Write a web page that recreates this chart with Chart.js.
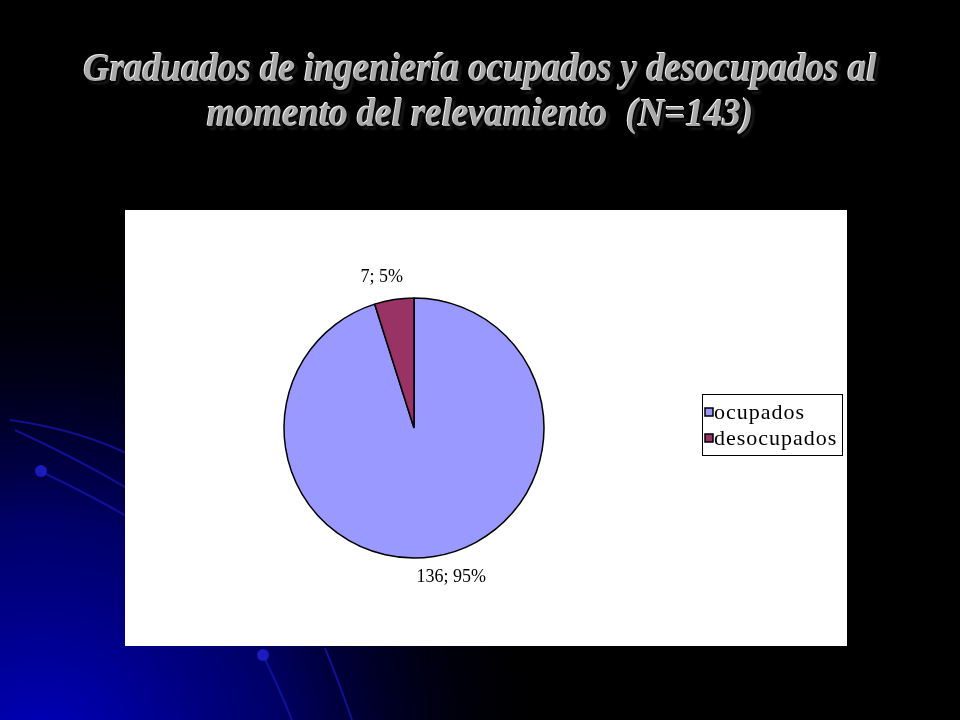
<!DOCTYPE html>
<html>
<head>
<meta charset="utf-8">
<script src="https://cdn.jsdelivr.net/npm/chart.js@4.4.0/dist/chart.umd.min.js"></script>
<style>
  html, body { margin: 0; padding: 0; }
  body {
    width: 960px; height: 720px; position: relative; overflow: hidden;
    background: #000;
  }
  #bg { position: absolute; left: 0; top: 0; }
  #title {
    position: absolute; left: 0; top: 45px; width: 960px;
    text-align: center;
    font-family: "Liberation Serif", serif;
    font-style: italic; font-weight: bold;
    font-size: 40px; line-height: 45px;
    color: #a9a9a9;
    transform: scaleX(0.92);
    transform-origin: 480px 0;
    text-shadow: -1px -1px 0 #f0f0f0, 2px 2px 2px #000, 3px 3px 3px #333;
  }
  #box {
    position: absolute; left: 125px; top: 210px;
    width: 722px; height: 436px; background: #fff;
  }
</style>
</head>
<body>
<canvas id="bg" width="960" height="720"></canvas>
<div id="title">Graduados de ingeniería ocupados y desocupados al<br>momento del relevamiento&nbsp; (N=143)</div>
<div id="box"><canvas id="pieChart"></canvas></div>
<script>
// data
const categories = ['ocupados', 'desocupados'];
const counts = [136, 7];
const percents = ['95%', '5%'];
const colors = ['#9999ff', '#993366'];

// background: blue glow bottom left with some curves
const bg = document.getElementById('bg').getContext('2d');
let grad = bg.createRadialGradient(40, 760, 10, 40, 760, 520);
grad.addColorStop(0, 'rgba(0,0,190,1)');
grad.addColorStop(0.45, 'rgba(0,0,130,0.8)');
grad.addColorStop(1, 'rgba(0,0,0,0)');
bg.fillStyle = grad;
bg.fillRect(0, 0, 960, 720);
bg.strokeStyle = 'rgba(20,20,170,0.8)';
bg.lineWidth = 2;
bg.beginPath(); bg.moveTo(10, 420); bg.quadraticCurveTo(80, 430, 130, 455); bg.stroke();
bg.beginPath(); bg.moveTo(15, 430); bg.quadraticCurveTo(80, 460, 130, 490); bg.stroke();
bg.beginPath(); bg.moveTo(42, 472); bg.quadraticCurveTo(90, 495, 130, 518); bg.stroke();
bg.beginPath(); bg.moveTo(263, 655); bg.quadraticCurveTo(280, 690, 292, 720); bg.stroke();
bg.beginPath(); bg.moveTo(325, 648); bg.quadraticCurveTo(340, 685, 352, 720); bg.stroke();
bg.fillStyle = 'rgba(30,30,200,0.9)';
bg.beginPath(); bg.arc(41, 471, 6, 0, Math.PI * 2); bg.fill();
bg.beginPath(); bg.arc(263, 655, 6, 0, Math.PI * 2); bg.fill();

// labels "n; p%" outside each slice
const sliceLabels = {
    id: 'sliceLabels',
    afterDatasetsDraw(chart) {
        const ctx = chart.ctx;
        const meta = chart.getDatasetMeta(0);
        ctx.save();
        ctx.font = '18px "Liberation Serif"';
        ctx.fillStyle = '#000';
        ctx.textAlign = 'center';
        ctx.textBaseline = 'middle';
        meta.data.forEach((arc, i) => {
            const mid = (arc.startAngle + arc.endAngle) / 2;
            const r = arc.outerRadius + 22;
            const x = arc.x + Math.cos(mid) * r;
            const y = arc.y + Math.sin(mid) * r;
            const dx = i === 0 ? 14 : -9;
            ctx.fillText(counts[i] + '; ' + percents[i], x + dx, y + (i === 0 ? -1 : -1));
        });
        ctx.restore();
    }
};

// bordered legend on the right
const boxLegend = {
    id: 'boxLegend',
    afterDraw(chart) {
        const ctx = chart.ctx;
        const left = 577, top = 184, w = 140, h = 61;
        ctx.save();
        ctx.strokeStyle = '#000';
        ctx.lineWidth = 1;
        ctx.strokeRect(left + 0.5, top + 0.5, w, h);
        ctx.font = '22px "Liberation Serif"';
        ctx.letterSpacing = '1px';
        ctx.textBaseline = 'middle';
        ctx.textAlign = 'left';
        chart.data.labels.forEach((lab, i) => {
            const cy = top + 18 + i * 26;
            ctx.fillStyle = colors[i];
            ctx.fillRect(left + 3, cy - 4, 8, 8);
            ctx.lineWidth = 1.5;
            ctx.strokeRect(left + 3, cy - 4, 8, 8);
            ctx.fillStyle = '#000';
            ctx.fillText(lab, left + 12, cy + 1);
        });
        ctx.restore();
    }
};

const ctx = document.getElementById('pieChart').getContext('2d');
const myChart = new Chart(ctx, {
    type: 'pie',
    data: {
        labels: categories,
        datasets: [{
            data: counts,
            backgroundColor: colors,
            borderColor: '#000',
            borderWidth: 1.5
        }]
    },
    options: {
        responsive: true,
        maintainAspectRatio: false,
        animation: false,
        radius: 130,
        layout: { padding: { left: 0, right: 144, top: 0, bottom: 0 } },
        plugins: {
            legend: { display: false },
            tooltip: { enabled: false }
        }
    },
    plugins: [sliceLabels, boxLegend]
});
</script>
</body>
</html>
